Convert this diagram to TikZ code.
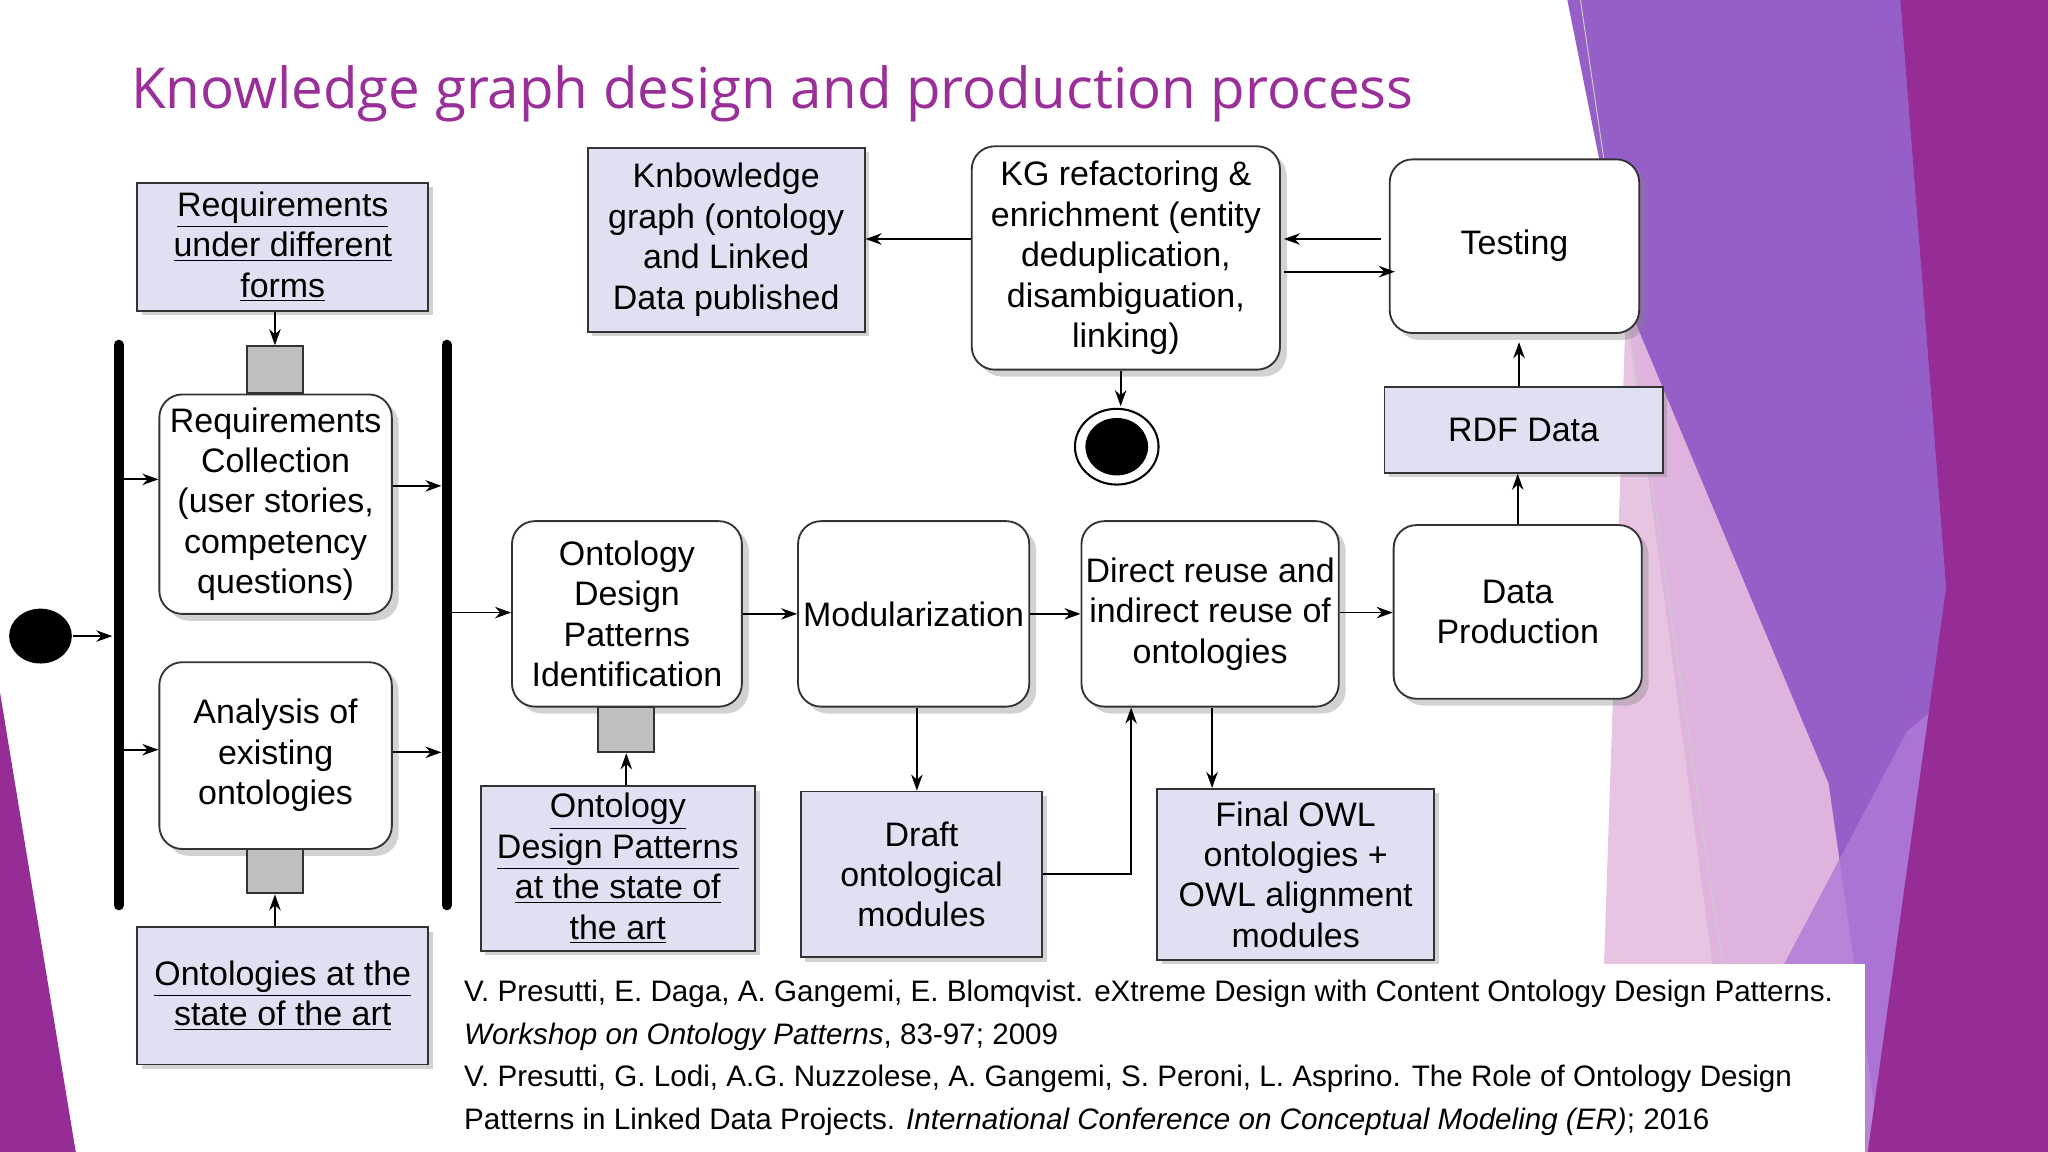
\documentclass[tikz,border=0pt]{standalone}
\usepackage{fontspec}
\setmainfont{Liberation Sans}
\newfontfamily\titlefont{Open Sans}
\usetikzlibrary{arrows.meta,shadows}
\definecolor{lav}{HTML}{E0E0F3}
\definecolor{titlec}{HTML}{9A2F9A}
\definecolor{edge}{HTML}{333333}
\newcommand\bx[7]{\node[#1,minimum width={(#5-#3)*0.02cm},minimum height={(#6-#4)*0.02cm}] (#2) at ({(#3+#5)/2},{(#4+#6)/2}) {#7};}
\tikzset{
 base/.style={draw=edge,line width=0.8pt,inner sep=0pt,align=center,font=\fontsize{14.8}{17.6}\selectfont},
 lavbox/.style={base,fill=lav,drop shadow={opacity=0.35,shadow xshift=2pt,shadow yshift=-2pt}},
 rbox/.style={base,fill=white,rounded corners=10pt,drop shadow={opacity=0.35,shadow xshift=3pt,shadow yshift=-3pt}},
 pin/.style={draw=edge,line width=0.8pt,fill=gray!50},
 arr/.style={-{Stealth[length=7pt,width=5pt]},line width=0.8pt},
 bar/.style={line width=4.5pt,line cap=round}
}
\begin{document}
\begin{tikzpicture}[x=0.02cm,y=-0.02cm]
\useasboundingbox (0,0) rectangle (1568,882);
% background decoration
\fill[white] (0,0) rectangle (1568,882);
\fill[color={rgb,255:red,150;green,95;blue,200}] (1200,0)--(1568,0)--(1568,882)--(1330,882)--(1240,200)--cycle;
\fill[color={rgb,255:red,230;green,190;blue,225},opacity=0.9] (1245,230)--(1400,600)--(1440,882)--(1240,882)--(1228,740)--cycle;
\fill[color={rgb,255:red,175;green,120;blue,215},opacity=0.8] (1290,882)--(1460,560)--(1568,470)--(1568,882)--cycle;
\fill[color={rgb,255:red,150;green,45;blue,150}] (1455,0)--(1568,0)--(1568,882)--(1430,882)--(1490,450)--cycle;
\fill[color={rgb,255:red,150;green,45;blue,150}] (0,530)--(58,882)--(0,882)--cycle;
\draw[gray!40,line width=0.4pt] (1210,0)--(1340,882);
% title
\node[anchor=west,text=titlec,font=\titlefont\fontsize{24.6}{30}\selectfont,inner sep=0pt] (title) at (100,72) {Knowledge graph design and production process};
% boxes
\bx{lavbox}{reqf}{105}{140}{328}{238}{\underline{Requirements}\\\underline{under different}\\\underline{forms}}
\bx{pin}{g1}{189}{265}{232}{301}{}
\bx{rbox}{reqc}{122}{302}{300}{470}{Requirements\\Collection\\(user stories,\\competency\\questions)}
\bx{rbox}{anal}{122}{507}{300}{650}{Analysis of\\existing\\ontologies}
\bx{pin}{g2}{189}{650}{232}{684}{}
\bx{lavbox}{onts}{105}{710}{328}{815}{\underline{Ontologies at the}\\\underline{state of the art}}
\bx{rbox}{odp}{392}{399}{568}{541}{Ontology\\Design\\Patterns\\Identification}
\bx{pin}{g3}{458}{541}{501}{576}{}
\bx{lavbox}{odps}{368}{602}{578}{728}{\underline{Ontology}\\\underline{Design Patterns}\\\underline{at the state of}\\\underline{the art}}
\bx{rbox}{mod}{611}{399}{788}{541}{Modularization}
\bx{lavbox}{draft}{613}{606}{798}{733}{Draft\\ontological\\modules}
\bx{rbox}{reuse}{828}{399}{1025}{541}{Direct reuse and\\indirect reuse of\\ontologies}
\bx{lavbox}{final}{886}{604}{1098}{735}{Final OWL\\ontologies +\\OWL alignment\\modules}
\bx{rbox}{dprod}{1067}{402}{1257}{535}{Data\\Production}
\bx{lavbox}{rdf}{1060}{296}{1273}{362}{RDF Data}
\bx{rbox}{test}{1064}{122}{1255}{255}{Testing}
\bx{rbox}{kgr}{744}{112}{980}{283}{KG refactoring \&\\enrichment (entity\\deduplication,\\disambiguation,\\linking)}
\bx{lavbox}{kgp}{450}{113}{662}{254}{Knbowledge\\graph (ontology\\and Linked\\Data published}
% start / end
\fill (31,487) ellipse [x radius=24,y radius=21];
\coordinate (start) at (31,487);
\draw[line width=0.9pt,fill=white] (855,342) ellipse [x radius=32,y radius=29];
\fill (855,342) ellipse [x radius=24,y radius=22];
\coordinate (endt) at (858,311);
% bars
\coordinate (b1t) at (91,264); \coordinate (b1b) at (91,693);
\coordinate (b2t) at (342,264); \coordinate (b2b) at (342,693);
\draw[bar] (b1t)--(b1b);
\draw[bar] (b2t)--(b2b);
% arrows
\draw[arr] (56,487)--(86,487);
\draw[arr] (94,367)--(reqc.west|-0,367);
\draw[arr] (94,574)--(anal.west|-0,574);
\draw[arr] (reqc.east|-0,372)--(338,372);
\draw[arr] (anal.east|-0,576)--(338,576);
\draw[arr] (reqf.south-|g1)--(g1.north);
\draw[arr] (onts.north-|g2)--(g2.south);
\draw[arr] (345,469)--(odp.west|-0,469);
\draw[arr] (odps.north-|g3)--(g3.south);
\draw[arr] (odp.east|-0,470)--(mod.west|-0,470);
\draw[arr] (mod.east|-0,470)--(reuse.west|-0,470);
\draw[arr] (reuse.east|-0,469)--(dprod.west|-0,469);
\draw[arr] (mod.south-|702,0)--(draft.north-|702,0);
\draw[arr] (draft.east|-0,669)--(866,669)--(reuse.south-|866,0);
\draw[arr] (reuse.south-|928,0)--(final.north-|928,0);
\draw[arr] (dprod.north-|1162,0)--(rdf.south-|1162,0);
\draw[arr] (rdf.north-|1163,0)--(1163,262);
\draw[arr] (1057,183)--(983,183);
\draw[arr] (983,208)--(1068,208);
\draw[arr] (kgr.west|-0,183)--(kgp.east|-0,183);
\draw[arr] (kgr.south-|858,0)--(endt);
% references
\fill[white] (345,738) rectangle (1428,882);
\node[anchor=north west,align=left,inner sep=0pt,font=\fontsize{12.9}{18.6}\selectfont] (refs) at (355,750) {V. Presutti, E. Daga, A. Gangemi, E. Blomqvist. eXtreme Design with Content Ontology Design Patterns.\\\textit{Workshop on Ontology Patterns}, 83-97; 2009\\V. Presutti, G. Lodi, A.G. Nuzzolese, A. Gangemi, S. Peroni, L. Asprino. The Role of Ontology Design\\Patterns in Linked Data Projects. \textit{International Conference on Conceptual Modeling (ER)}; 2016};
\end{tikzpicture}
\end{document}
